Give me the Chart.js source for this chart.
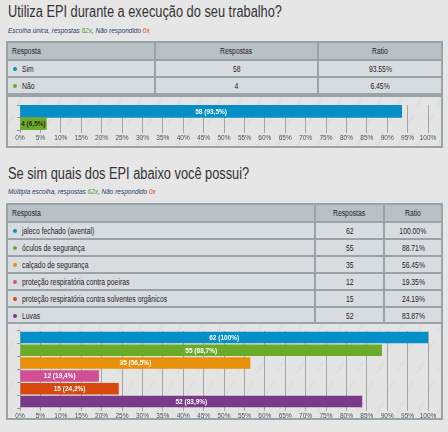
<!DOCTYPE html>
<html><head><meta charset="utf-8">
<script src="https://cdn.jsdelivr.net/npm/chart.js@4/dist/chart.umd.min.js"></script>
<style>
html,body{margin:0;padding:0;background:#e6e6e6;width:448px;height:432px;overflow:hidden;font-family:"Liberation Sans",Arial,sans-serif;}
.n{display:inline-block;white-space:nowrap;transform:scaleX(0.8);transform-origin:left center;}
.c .n{transform-origin:center center;}
.t{position:absolute;left:8px;font-size:16px;color:#333;white-space:nowrap;}
.s{position:absolute;left:8px;font-size:7.5px;font-style:italic;color:#2b3a6b;white-space:nowrap;}
.s .n{transform:scaleX(0.86);}
.s .g{color:#4c9a1a}.s .r{color:#e03a2a}
table{position:absolute;left:6px;width:437px;border-collapse:collapse;font-size:8.5px;color:#1e1e2a;}
td,th{border:2px solid #9aa3a7;padding:0 4px;height:15px;background:#d9dcde;font-weight:normal;}
th{background:#b9c1c4;text-align:left;height:16px;}
th.c,td.c{text-align:center;}
.dot{display:inline-block;width:4px;height:4px;border-radius:50%;margin:0 5px 1px 1px;vertical-align:middle;}
.box{position:absolute;left:6px;width:433px;border:2px solid #9aa3a7;background:#e4e4e4;}
.cv{position:absolute;left:0;top:0;}
</style></head><body>
<div class="t" style="top:3px"><span class="n">Utiliza EPI durante a execução do seu trabalho?</span></div>
<div class="s" style="top:26px"><span class="n">Escolha única, respostas <span class="g">62x</span>, Não respondido <span class="r">0x</span></span></div>
<table id="tab1" style="top:41px"><colgroup><col style="width:148px"><col style="width:163px"><col></colgroup></table>
<div class="box" style="top:95px;height:49px"><div class="cv" style="width:433px;height:49px"><canvas id="c1"></canvas></div></div>

<div class="t" style="top:165px"><span class="n">Se sim quais dos EPI abaixo você possui?</span></div>
<div class="s" style="top:187px"><span class="n">Múltipla escolha, respostas <span class="g">62x</span>, Não respondido <span class="r">0x</span></span></div>
<table id="tab2" style="top:203px"><colgroup><col style="width:308px"><col style="width:69px"><col></colgroup></table>
<div class="box" style="top:322px;height:94px"><div class="cv" style="width:433px;height:94px"><canvas id="c2"></canvas></div></div>

<script>
const total1 = 62;
const q1Labels = ['Sim', 'Não'];
const q1Counts = [58, 4];
const q1Colors = ['#068fc6', '#6aab2a'];

const total2 = 62;
const q2Labels = ['jaleco fechado (avental)', 'óculos de segurança', 'calçado de segurança', 'proteção respiratória contra poeiras', 'proteção respiratória contra solventes orgânicos', 'Luvas'];
const q2Counts = [62, 55, 35, 12, 15, 52];
const q2Colors = ['#068fc6', '#6aab2a', '#e8900a', '#d14f95', '#d9480d', '#7a3a8a'];

const tickValues = [0,5,10,15,20,25,30,35,40,45,50,55,60,65,70,75,80,85,90,95,100];

function fillTable(id, labels, counts, total, colors){
  const t = document.getElementById(id);
  let h = '<tr><th><span class="n">Resposta</span></th><th class="c"><span class="n">Respostas</span></th><th class="c"><span class="n">Ratio</span></th></tr>';
  labels.forEach((l,i)=>{
    h += '<tr><td><span class="dot" style="background:'+colors[i]+'"></span><span class="n">'+l+'</span></td><td class="c"><span class="n">'+counts[i]+'</span></td><td class="c"><span class="n">'+(counts[i]/total*100).toFixed(2)+'%</span></td></tr>';
  });
  t.insertAdjacentHTML('beforeend', h);
}
fillTable('tab1', q1Labels, q1Counts, total1, q1Colors);
fillTable('tab2', q2Labels, q2Counts, total2, q2Colors);

function fmt(c,total){
  const r = Math.round(c/total*1000)/10;
  return c + ' (' + String(r).replace('.', ',') + '%)';
}

const watermark = {
  id:'watermark',
  beforeDraw(chart){
    const ctx = chart.ctx;
    ctx.save();
    ctx.font = '5px "Liberation Sans", sans-serif';
    ctx.fillStyle = 'rgba(205,205,205,0.55)';
    for(let y=-10, row=0; y<chart.height+20; y+=20,row++){
      for(let x=(row%2?10:0); x<chart.width+20; x+=20){
        ctx.save(); ctx.translate(x,y); ctx.rotate(-Math.PI/3);
        ctx.fillText('survio',0,0); ctx.restore();
      }
    }
    ctx.restore();
  }
};
const barLabels = {
  id:'barLabels',
  afterDatasetsDraw(chart){
    const ctx = chart.ctx;
    const ds = chart.data.datasets[0];
    const meta = chart.getDatasetMeta(0);
    ctx.save();
    ctx.font = 'bold 6.5px "Liberation Sans", sans-serif';
    ctx.textAlign = 'center'; ctx.textBaseline = 'middle';
    meta.data.forEach((bar,i)=>{
      const cx = (bar.x + bar.base)/2;
      ctx.fillStyle = ds.data[i] < 10 ? '#2a2a1a' : '#ffffff';
      ctx.fillText(ds.labelTexts[i], cx, bar.y+0.5);
    });
    ctx.restore();
  }
};

function makeChart(id, labels, counts, total, colors, barPct, padTop, xH){
  const pct = counts.map(c=>c/total*100);
  return new Chart(document.getElementById(id), {
    type:'bar',
    data:{labels:labels, datasets:[{data:pct, backgroundColor:colors, borderWidth:0, barPercentage:barPct, categoryPercentage:1, labelTexts:counts.map(c=>fmt(c,total))}]},
    options:{
      indexAxis:'y', responsive:true, maintainAspectRatio:false, animation:false,
      layout:{padding:{left:0,right:13,top:padTop,bottom:0}},
      plugins:{legend:{display:false}, tooltip:{enabled:false}},
      scales:{
        x:{min:0,max:100,
          afterBuildTicks(s){ s.ticks = tickValues.map(v=>({value:v})); },
          afterFit(s){ s.height = xH; },
          ticks:{autoSkip:false, maxRotation:0, padding:1, color:'#4a5560', font:{size:6.5, family:'"Liberation Sans", sans-serif'}, callback:v=>v+'%'},
          grid:{color:'#a4a4a4', lineWidth:1, tickLength:3, drawTicks:true},
          border:{display:false}},
        y:{afterFit(s){ s.width = 12; },
          ticks:{display:false},
          grid:{drawOnChartArea:false, drawTicks:true, tickLength:3, color:'#999'},
          border:{display:false}}
      }
    },
    plugins:[watermark, barLabels]
  });
}
makeChart('c1', q1Labels, q1Counts, total1, q1Colors, 1, 8, 16);
makeChart('c2', q2Labels, q2Counts, total2, q2Colors, 0.9, 7, 10);
</script>
</body></html>
